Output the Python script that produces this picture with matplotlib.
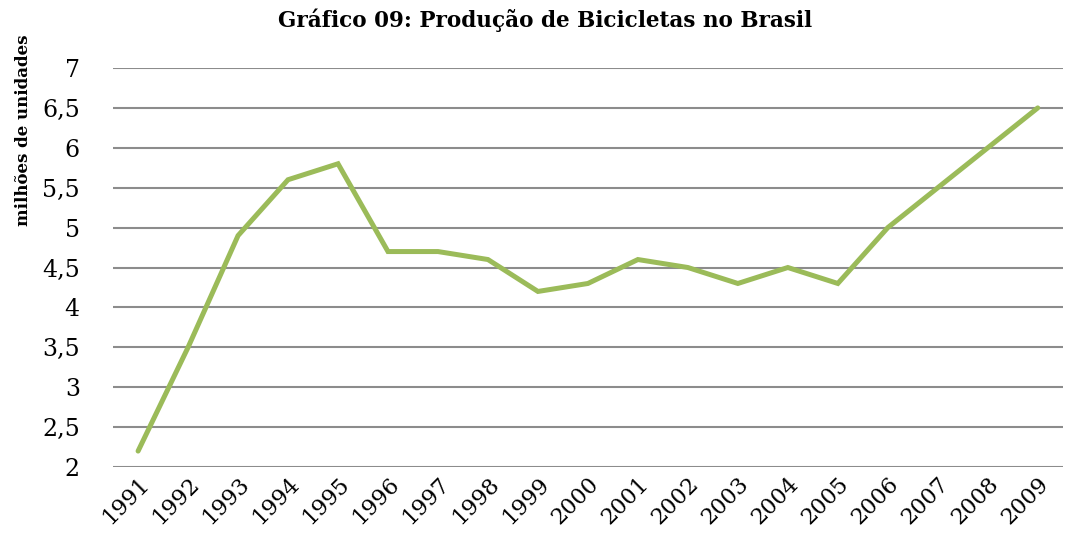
import matplotlib.pyplot as plt
import numpy as np

years = ["1991", "1992", "1993", "1994", "1995", "1996", "1997", "1998", "1999", "2000",
         "2001", "2002", "2003", "2004", "2005", "2006", "2007", "2008", "2009"]
producao = [2.2, 3.5, 4.9, 5.6, 5.8, 4.7, 4.7, 4.6, 4.2, 4.3,
            4.6, 4.5, 4.3, 4.5, 4.3, 5.0, 5.5, 6.0, 6.5]
y_ticks = [2, 2.5, 3, 3.5, 4, 4.5, 5, 5.5, 6, 6.5, 7]
y_tick_labels = ["2", "2,5", "3", "3,5", "4", "4,5", "5", "5,5", "6", "6,5", "7"]

plt.rcParams["font.family"] = "DejaVu Serif"

fig = plt.figure(figsize=(10.67, 5.44), dpi=100)
ax = fig.add_axes([0.106, 0.1415, 0.890, 0.7335])

x = np.arange(len(years))
ax.plot(x, producao, color="#9BBB59", linewidth=3.6, solid_capstyle="round",
        solid_joinstyle="miter", zorder=3)

ax.set_xlim(-0.5, len(years) - 0.5)
ax.set_ylim(2, 7)
ax.set_yticks(y_ticks)
ax.set_yticklabels(y_tick_labels, fontsize=17)
ax.set_xticks(x)
ax.set_xticklabels(years, fontsize=16, rotation=45, ha="right", rotation_mode="anchor")
ax.tick_params(axis="both", length=0)
ax.tick_params(axis="y", pad=24)
ax.tick_params(axis="x", pad=4)

# horizontal gridlines only, no frame
ax.grid(True, axis="y", color="#8c8c8c", linewidth=1.5)
ax.set_axisbelow(True)
for s in ax.spines.values():
    s.set_visible(False)

ax.set_ylabel("milhões de unidades", fontsize=12, fontweight="bold")
ax.yaxis.set_label_coords(-0.094, 0.845)
ax.yaxis.label.set_va("center")

fig.suptitle("Gráfico 09: Produção de Bicicletas no Brasil", fontsize=15.5,
             fontweight="bold", x=0.511, y=0.985)

fig.savefig("out.png", dpi=100)
